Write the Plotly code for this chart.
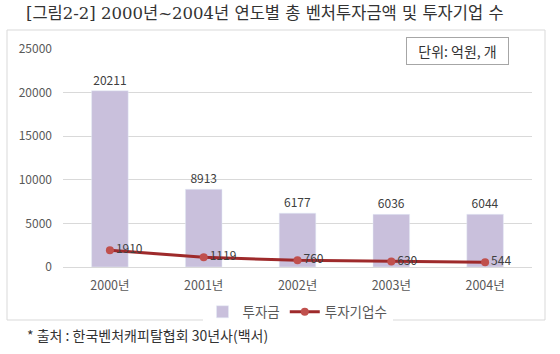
import plotly.graph_objects as go

years = ["2000년", "2001년", "2002년", "2003년", "2004년"]
invest = [20211, 8913, 6177, 6036, 6044]
companies = [1910, 1119, 760, 630, 544]
y_ticks = [0, 5000, 10000, 15000, 20000, 25000]

W, H = 560, 354
L, R, T, B = 63, 28, 49, 87
PW, PH = W - L - R, H - T - B

def px(x):
    return (x - L) / PW

def py(y):
    return (H - B - y) / PH

FONT = "Noto Sans CJK KR"

fig = go.Figure()
fig.add_trace(go.Bar(
    x=years, y=invest, name="투자금",
    marker=dict(color="#C9C0DC"),
    width=0.39,
    text=[str(v) for v in invest], textposition="outside",
    textfont=dict(size=12, color="#404040", family=FONT),
    cliponaxis=False,
))
fig.add_trace(go.Scatter(
    x=years, y=companies, name="투자기업수", mode="lines+markers+text",
    line=dict(color="#9E2A2B", width=3),
    marker=dict(color="#C0504D", size=8),
    text=[str(v) for v in companies], textposition="middle right",
    textfont=dict(size=12, color="#404040", family=FONT),
    cliponaxis=False,
))

fig.update_layout(
    width=W, height=H,
    margin=dict(l=L, r=R, t=T, b=B),
    paper_bgcolor="white", plot_bgcolor="white",
    font=dict(family=FONT, color="#595959", size=12),
    showlegend=True,
    legend=dict(orientation="h", x=0.5, xanchor="center", y=py(312), yanchor="middle",
                font=dict(size=13.5, color="#595959", family=FONT),
                itemwidth=30, tracegroupgap=0),
    xaxis=dict(showgrid=False, showline=False, ticks="", ticklabelstandoff=9,
               tickfont=dict(size=12.5, color="#595959")),
    yaxis=dict(range=[0, 25000], tickvals=y_ticks, ticktext=[str(v) for v in y_ticks],
               showgrid=True, gridcolor="#D9D9D9",
               zeroline=True, zerolinecolor="#D9D9D9", zerolinewidth=1,
               showline=False, ticks="", ticklabelstandoff=10,
               tickfont=dict(size=12, color="#595959")),
)

fig.add_shape(type="rect", xref="paper", yref="paper",
              x0=px(7), x1=px(545), y0=py(320), y1=py(30),
              line=dict(color="#D9D9D9", width=1), layer="below")

fig.add_annotation(xref="paper", yref="paper", x=px(265), y=py(14),
                   text="[그림2-2] 2000년~2004년 연도별 총 벤처투자금액 및 투자기업 수",
                   showarrow=False, font=dict(size=16.5, color="#333333", family="DejaVu Serif, " + FONT),
                   xanchor="center", yanchor="middle")

fig.add_annotation(xref="paper", yref="paper", x=px(457), y=py(51),
                   text="단위: 억원, 개", showarrow=False,
                   font=dict(size=14, color="#333333", family=FONT),
                   bordercolor="#A6A6A6", borderwidth=1, borderpad=3, bgcolor="white",
                   width=95, height=20, align="center",
                   xanchor="center", yanchor="middle")

fig.add_annotation(xref="paper", yref="paper", x=px(25), y=py(335),
                   text="* 출처 : 한국벤처캐피탈협회 30년사(백서)", showarrow=False,
                   font=dict(size=14, color="#333333", family=FONT),
                   xanchor="left", yanchor="middle")

fig.write_html("out.html")
